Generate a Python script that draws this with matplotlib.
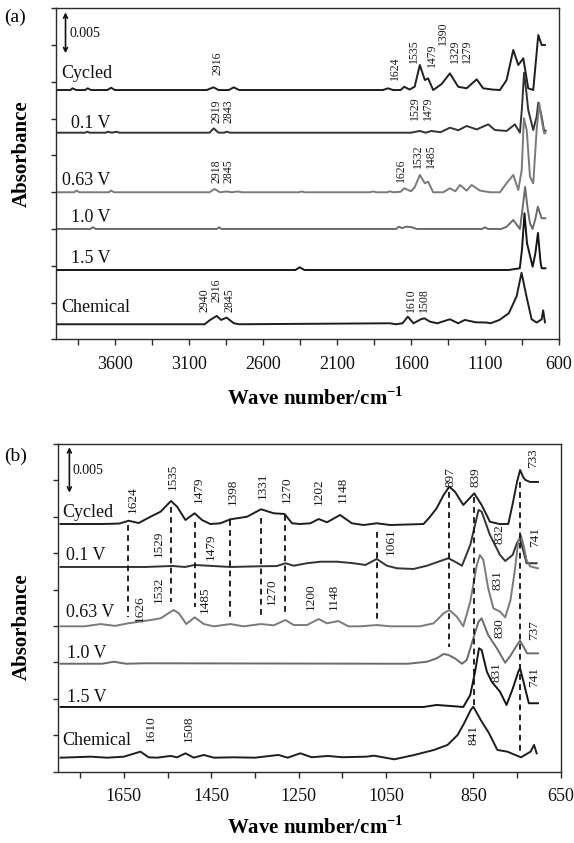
import matplotlib
matplotlib.use("Agg")
import matplotlib.pyplot as plt

plt.rcParams['font.family'] = ['Liberation Serif', 'DejaVu Serif']
plt.rcParams['mathtext.fontset'] = 'custom'
plt.rcParams['mathtext.rm'] = 'Liberation Serif'
plt.rcParams['mathtext.bf'] = 'Liberation Serif:bold'

# ---------------- data (absorbance in units of 1e-3, relative to each trace baseline) -------------
TRACE_NAMES = ['Cycled', '0.1 V', '0.63 V', '1.0 V', '1.5 V', 'Chemical']

# Panel (a): 4000-600 cm-1
A_CYC_WN = [3990, 3900, 3886, 3860, 3800, 3784, 3760, 3650, 3625, 3600, 2980, 2933, 2900, 2830, 2797, 2760,
            1790, 1756, 1720, 1670, 1645, 1610, 1575, 1540, 1506, 1484, 1450, 1393, 1337, 1281, 1224, 1156,
            1112, 1050, 999, 954, 909, 875, 841, 808, 774, 740, 717, 695]
A_CYC_DA = [0, 0, 0.21, 0, 0, 0.21, 0, 0, 0.28, 0, 0, 0.33, 0, 0, 0.33, 0,
            0, 0.21, 0, 0, 0.40, 0.06, 0.40, 3.06, 1.22, 1.43, 0, 0.73, 2.04, 0.40, 0.21, 1.31,
            0.21, 0.06, 0, 1.22, 4.90, 3.06, 3.88, 0.21, 0, 6.73, 5.51, 5.51]

A_V01_WN = [3990, 3800, 3785, 3770, 3660, 3649, 3620, 3588, 3570, 2960, 2932, 2900, 2860, 2845, 2820,
            1600, 1540, 1500, 1462, 1400, 1337, 1280, 1224, 1156, 1078, 1033, 954, 898, 864, 850, 836,
            820, 808, 774, 751, 740, 717, 701, 690]
A_V01_DA = [0, 0, 0.12, 0, 0, 0.12, 0, 0.12, 0, 0, 0.53, 0, 0, 0.12, 0,
            0, 0.21, 0, 0.21, 0.06, 0.61, 0.30, 0.82, 0.40, 1.02, 0.33, 0.21, 1.02, 0, 3.06, 7.34,
            4.90, 2.78, 0.33, 1.96, 3.67, 1.96, 0.24, 0.24]

A_V063_WN = [3990, 3875, 3859, 3840, 3640, 3625, 3605, 2960, 2927, 2890, 2845, 2810, 2770, 2740,
             2360, 2338, 2315, 1880, 1857, 1830, 1760, 1743, 1720, 1670, 1645, 1600, 1575, 1540, 1506,
             1484, 1450, 1382, 1337, 1300, 1269, 1224, 1190, 1134, 1066, 999, 954, 909, 875, 852, 837,
             818, 796, 774, 751, 733, 717, 701, 692]
A_V063_DA = [0, 0, 0.21, 0, 0, 0.21, 0, 0, 0.40, 0, 0.09, 0, 0.09, 0,
             0, 0.09, 0, 0, 0.09, 0, 0, 0.12, 0, 0.06, 0.49, 0.12, 0.6, 2.12, 1.10,
             1.30, 0, 0, 0.49, 0.12, 0.89, 0.21, 0.89, 0.21, 0, 0, 1.10, 2.12, 0.28, 2.69, 9.06,
             7.59, 1.91, 1.10, 7.63, 10.89, 8.85, 7.22, 7.22]

A_V10_WN = [3990, 3765, 3749, 3730, 2910, 2895, 2880, 1700, 1682, 1660, 1634, 1595, 1560, 1120, 1100, 1080,
            990, 953, 909, 864, 846, 829, 812, 796, 779, 760, 743, 717, 692]
A_V10_DA = [0, 0, 0.21, 0, 0, 0.21, 0, 0, 0.28, 0.1, 0.28, 0.21, 0, 0, 0.21, 0,
            0, 0.28, 1.10, 0, 2.5, 5.14, 2.5, 0.70, 0, 1.2, 2.73, 1.31, 1.31]

A_V15_WN = [3990, 2380, 2351, 2320, 940, 865, 850, 833, 816, 778, 760, 742, 725, 717, 692]
A_V15_DA = [0, 0, 0.33, 0, 0, 0.21, 2.5, 6.94, 3.27, 0.40, 2.0, 4.53, 1.0, 0.21, 0.21]

A_CHEM_WN = [3990, 2994, 2956, 2912, 2882, 2845, 2796, 2760, 1744, 1700, 1657, 1621, 1583, 1533, 1509,
             1472, 1422, 1337, 1281, 1236, 1162, 1089, 1063, 1002, 939, 886, 853, 818, 785, 751, 717, 707, 695]
A_CHEM_DA = [0, 0, 0.53, 1.02, 0.53, 0.81, 0.12, 0, 0.12, 0, 0.12, 0.93, 0.12, 0.61, 0.73,
             0.32, 0.12, 0.61, 0.12, 0.53, 0.24, 0.21, 0.12, 0.53, 1.35, 3.43, 6.30, 3.27, 0.61, 0.21, 0.61, 1.71, 0.24]

# Panel (b): 1800-650 cm-1
B_CYC_WN = [1795, 1700, 1660, 1639, 1616, 1589, 1566, 1542, 1528, 1509, 1488, 1471, 1452, 1429, 1406, 1368,
            1336, 1307, 1282, 1265, 1246, 1223, 1204, 1185, 1155, 1128, 1101, 1071, 1040, 964, 949, 934,
            918, 905, 892, 873, 848, 831, 812, 790, 770, 760, 750, 743, 736, 731, 720, 702]
B_CYC_DA = [0, 0, 0.05, 0.36, 0.11, 0.80, 1.35, 2.53, 1.90, 0.44, 1.18, 0.44, 0, 0.08, 0.52, 0.80,
            1.62, 1.18, 1.10, 0.08, 0, 0.08, 0.55, 0.19, 0.99, 0.08, -0.11, 0.08, -0.11, 0, 0.80, 1.73,
            3.19, 4.10, 3.55, 2.09, 3.37, 2.09, 0.25, 0, 0, 2.20, 4.62, 5.93, 5.17, 4.84, 4.62, 4.62]

B_V01_WN = [1795, 1700, 1600, 1539, 1510, 1488, 1406, 1336, 1300, 1280, 1261, 1231, 1200, 1162, 1124,
            1097, 1071, 1048, 1025, 987, 956, 930, 907, 892, 876, 857, 838, 831, 812, 789, 777, 760,
            750, 743, 735, 728, 705]
B_V01_DA = [0, 0, 0, 0.11, 0, 0.22, 0, 0.08, 0.1, 0.41, 0.14, 0.41, 0.58, 0.58, 0.41,
            0.22, 0.88, 0.14, -0.14, -0.22, 0.14, 0.58, 0.96, 0.58, 0.14, 2.42, 6.26, 6.08, 3.52, 1.32, 0.66, 1.32,
            2.64, 3.15, 1.65, 0.41, 0.41]

B_V063_WN = [1795, 1740, 1703, 1670, 1640, 1589, 1566, 1536, 1524, 1507, 1488, 1467, 1444, 1406, 1376,
             1336, 1307, 1280, 1261, 1231, 1204, 1185, 1159, 1136, 1109, 1071, 1040, 972, 941, 918, 905,
             888, 873, 857, 842, 835, 827, 816, 804, 789, 777, 765, 755, 747, 741, 735, 728, 720, 702]
B_V063_DA = [0, 0, 0.25, 0.05, 0.33, 0.69, 0.88, 1.79, 1.43, 0.25, 0.99, 0.25, 0, 0.25, 0,
             0.25, 0.11, 0.69, 0.14, 0.14, 0.80, 0.33, 0.58, 0, 0, 0.14, 0, 0, 0.33, 1.43, 1.79,
             1.07, 0, 2.71, 6.74, 7.84, 7.29, 4.18, 1.98, 1.62, 0.99, 2.86, 6.15, 9.45, 10.0, 8.90, 7.25, 6.59, 6.37]

B_V10_WN = [1795, 1700, 1673, 1645, 1600, 1000, 956, 934, 918, 907, 892, 876, 865, 850, 838, 831, 816,
            796, 777, 765, 750, 743, 735, 727, 702]
B_V10_DA = [0, 0, 0.22, 0, 0.05, 0, 0.22, 0.59, 1.07, 0.96, 0.59, 0, 0.41, 2.79, 4.62, 4.99, 3.15,
            1.69, 0.11, 0.88, 2.06, 2.53, 1.87, 1.14, 1.14]

B_V15_WN = [1795, 964, 934, 911, 873, 857, 846, 837, 831, 819, 808, 789, 774, 760, 747, 743, 735, 723, 702]
B_V15_DA = [0, 0, 0.22, 0.14, 0, 1.32, 3.88, 6.45, 6.26, 3.88, 2.78, 1.68, 0.22, 1.98, 3.88, 4.25, 2.75, 0.41, 0.41]

B_CHEM_WN = [1795, 1726, 1688, 1650, 1612, 1593, 1574, 1543, 1528, 1509, 1490, 1467, 1444, 1399, 1350,
             1296, 1275, 1246, 1220, 1183, 1150, 1095, 1077, 1031, 985, 940, 909, 886, 871, 856, 850,
             833, 814, 795, 772, 741, 719, 711, 705]
B_CHEM_DA = [0, 0.11, 0, 0.11, 0.66, 0.04, 0, 0.19, 0.04, 0.48, 0, 0.30, 0, 0.04, 0,
             0.30, 0, 0.48, 0.05, 0.19, 0.05, 0.11, 0.22, -0.18, 0.30, 0.85, 1.40, 2.49, 3.78, 5.24, 5.60,
             4.14, 2.68, 0.85, 0.66, 0.04, 0.66, 1.40, 0.48]

# vertical stacking offsets of each trace (1e-3 absorbance)
A_OFFSETS = [30.50, 25.28, 17.99, 13.50, 8.48, 1.84]
B_OFFSETS = [27.21, 22.49, 15.97, 11.86, 7.11, 1.54]

# axis ticks
A_XTICKS = [3850, 3600, 3350, 3100, 2850, 2600, 2350, 2100, 1850, 1600, 1350, 1100, 850, 600]
A_XTICKLABELS = ['', '3600', '', '3100', '', '2600', '', '2100', '', '1600', '', '1100', '', '600']
B_XTICKS = [1750, 1650, 1550, 1450, 1350, 1250, 1150, 1050, 950, 850, 750, 650]
B_XTICKLABELS = ['', '1650', '', '1450', '', '1250', '', '1050', '', '850', '', '650']
A_YTICKS = [0, 4.5, 9, 13.5, 18, 22.5, 27, 31.5, 36, 40.5]
B_YTICKS = [0, 4, 8, 12, 16, 20, 24, 28, 32, 36]

# peak annotations: (text, wavenumber, y of text bottom)
A_PEAK_LABELS = [
    ('2916', 2907, 32.34), ('1624', 1707, 31.73), ('1535', 1580, 33.77), ('1479', 1459, 33.26),
    ('1390', 1382, 36.01), ('1329', 1302, 33.77), ('1279', 1224, 33.77),
    ('2919', 2910, 26.47), ('2843', 2830, 26.47), ('1529', 1574, 26.83), ('1479', 1486, 26.83),
    ('2918', 2910, 19.13), ('2845', 2830, 19.13), ('1626', 1668, 19.25), ('1532', 1550, 21.02),
    ('1485', 1465, 21.02),
    ('2940', 2995, 3.38), ('2916', 2916, 4.60), ('2845', 2826, 3.38), ('1610', 1597, 3.38), ('1508', 1513, 3.38),
]
B_PEAK_LABELS = [
    ('1624', 1629, 28.39), ('1535', 1539, 30.95), ('1479', 1479, 29.52), ('1398', 1401, 29.30),
    ('1331', 1332, 29.96), ('1270', 1276, 29.52), ('1202', 1203, 29.30), ('1148', 1148, 29.49),
    ('897', 903, 31.31), ('839', 845, 31.31), ('733', 712, 33.36),
    ('1529', 1569, 23.55), ('1479', 1450, 23.26), ('1061', 1040, 23.81), ('832', 791, 25.01), ('741', 709, 24.72),
    ('1626', 1614, 16.48), ('1532', 1570, 18.50), ('1485', 1464, 17.43), ('1270', 1311, 18.31),
    ('1200', 1223, 17.76), ('1148', 1170, 17.76), ('831', 794.5, 19.96),
    ('830', 791, 14.69), ('737', 711, 14.47),
    ('831', 798, 9.85), ('741', 711, 9.34),
    ('1610', 1589, 3.30), ('1508', 1501, 3.30), ('841', 850.5, 2.93),
]
# dashed guide lines in panel (b): (wavenumber, y top, y bottom)
B_GUIDES = [(1640, 27.10, 17.0), (1541.6, 29.11, 18.68), (1487.7, 27.47, 18.13), (1406, 27.65, 17.03),
            (1336, 27.84, 17.21), (1280.3, 28.20, 17.21), (1070.7, 26.37, 16.67), (904.7, 30.76, 13.73),
            (848, 30.18, 7.00), (743, 31.86, 1.83)]

# trace name labels: (wavenumber of left edge, baseline y)
A_NAME_POS = [(3960, 31.94), (3899, 25.82), (3960, 18.88), (3897, 14.39), (3899, 9.30), (3960, 3.38)]
B_NAME_POS = [(1790, 28.01), (1783, 23.26), (1783, 17.03), (1781, 12.46), (1781, 7.69), (1790, 2.93)]

TRACE_COLORS = ['#1e1e1e', '#333333', '#7a7a7a', '#6b6b6b', '#151515', '#1e1e1e']

A_DATA = [(A_CYC_WN, A_CYC_DA), (A_V01_WN, A_V01_DA), (A_V063_WN, A_V063_DA),
          (A_V10_WN, A_V10_DA), (A_V15_WN, A_V15_DA), (A_CHEM_WN, A_CHEM_DA)]
B_DATA = [(B_CYC_WN, B_CYC_DA), (B_V01_WN, B_V01_DA), (B_V063_WN, B_V063_DA),
          (B_V10_WN, B_V10_DA), (B_V15_WN, B_V15_DA), (B_CHEM_WN, B_CHEM_DA)]

# ---------------- figure ----------------
W, H = 574, 843
fig = plt.figure(figsize=(W / 100, H / 100), dpi=100)
ax_a = fig.add_axes([55.6 / W, 1 - 339.3 / H, (559 - 55.6) / W, (339.3 - 8.3) / H])
ax_b = fig.add_axes([58.3 / W, 1 - 771.7 / H, (560.7 - 58.3) / W, (771.7 - 444) / H])

FRAME = '#2a2a2a'


def draw_panel(ax, data, offsets, xlim, ylim, xticks, xticklabels, yticks, peaks, names, arrow_x, arrow_y,
               peak_size):
    for (wn, da), off, col in zip(data, offsets, TRACE_COLORS):
        ax.plot(wn, [v + off for v in da], color=col, lw=1.4, solid_joinstyle='round')
    ax.set_xlim(*xlim)
    ax.set_ylim(*ylim)
    ax.set_xticks(xticks)
    ax.set_xticklabels(xticklabels)
    ax.set_yticks(yticks)
    ax.set_yticklabels([])
    ax.tick_params(axis='x', direction='out', length=4, width=1, pad=8, labelsize=13, colors=FRAME)
    ax.tick_params(axis='y', direction='out', length=3.5, width=1, colors=FRAME)
    for lab in ax.get_xticklabels():
        lab.set_color('#111111')
    for s in ax.spines.values():
        s.set_linewidth(1.0)
        s.set_color(FRAME)
    for txt, x, y in peaks:
        ax.text(x, y, txt, rotation=90, ha='center', va='bottom', fontsize=peak_size, color='#1a1a1a',
                linespacing=1.0)
    for name, (x, y) in zip(TRACE_NAMES, names):
        ax.text(x, y, name, ha='left', va='baseline', fontsize=13, color='#111111')
    ax.annotate('', xy=(arrow_x, arrow_y + 5.0), xytext=(arrow_x, arrow_y),
                arrowprops=dict(arrowstyle='<->', lw=1.2, color='#111111', shrinkA=0, shrinkB=0,
                                mutation_scale=7))


draw_panel(ax_a, A_DATA, A_OFFSETS, (4000, 600), (0, 40.5), A_XTICKS, A_XTICKLABELS, A_YTICKS,
           A_PEAK_LABELS, A_NAME_POS, 3933, 35.0, 8.5)
ax_a.text(3905, 37.4, '0.005', ha='left', va='center', fontsize=10, color='#111111')

draw_panel(ax_b, B_DATA, B_OFFSETS, (1800, 650), (0, 36), B_XTICKS, B_XTICKLABELS, B_YTICKS,
           B_PEAK_LABELS, B_NAME_POS, 1774.6, 30.65, 9.5)
ax_b.text(1767, 33.1, '0.005', ha='left', va='center', fontsize=10, color='#111111')

for x, y0, y1 in B_GUIDES:
    ax_b.plot([x, x], [y0, y1], color='#111111', lw=1.3, dashes=(3.2, 2.4))

# panel letters and axis titles
fig.text(4 / W, 1 - 17 / H, '(a)', fontsize=14, ha='left', va='center')
fig.text(4 / W, 1 - 456 / H, '(b)', fontsize=14, ha='left', va='center')
fig.text(22 / W, 1 - 154 / H, 'Absorbance', rotation=90, fontsize=15, fontweight='bold', ha='center', va='center')
fig.text(22 / W, 1 - 627 / H, 'Absorbance', rotation=90, fontsize=15, fontweight='bold', ha='center', va='center')
xlab = r'Wave number/cm$^{\mathbf{-1}}$'
fig.text(315 / W, 1 - 398 / H, xlab, fontsize=15, fontweight='bold', ha='center', va='center')
fig.text(315 / W, 1 - 828 / H, xlab, fontsize=15, fontweight='bold', ha='center', va='center')

fig.savefig('out.png', dpi=100)
